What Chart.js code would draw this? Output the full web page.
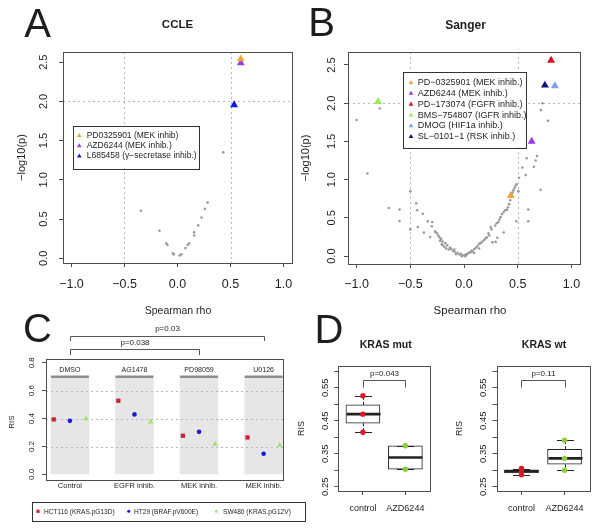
<!DOCTYPE html>
<html>
<head>
<meta charset="utf-8">
<title>RIS and drug response figure</title>
<script src="https://cdn.jsdelivr.net/npm/chart.js@4.4.1/dist/chart.umd.min.js"></script>
<style>
  html, body { margin: 0; padding: 0; background: #fff; }
  #page { position: relative; width: 600px; height: 530px; overflow: hidden;
          font-family: "Liberation Sans", Arial, sans-serif; color: #1e1e1e; }
  #page canvas { position: absolute; left: 0; top: 0; }
  .lbl { position: absolute; white-space: nowrap; line-height: 1; transform: translate(-50%, -50%); }
</style>
</head>
<body>
<div id="page">
  <canvas id="chartA" width="600" height="530"></canvas>
  <canvas id="chartB" width="600" height="530"></canvas>
  <canvas id="chartC" width="600" height="530"></canvas>
  <canvas id="chartD1" width="600" height="530"></canvas>
  <canvas id="chartD2" width="600" height="530"></canvas>
</div>
<script>
// ---- panel A: CCLE volcano ----
const ccleRho  = [-0.345, -0.17, -0.106, -0.095, -0.043, -0.035, 0.02, 0.037, 0.075, 0.095, 0.11, 0.157, 0.157, 0.195, 0.227, 0.258, 0.284, 0.432];
const ccleLogP = [0.607, 0.352, 0.19, 0.17, 0.064, 0.05, 0.037, 0.05, 0.13, 0.17, 0.19, 0.29, 0.33, 0.42, 0.52, 0.63, 0.71, 1.35];
const ccleDrugs    = ['PD0325901 (MEK inhib)', 'AZD6244 (MEK inhib.)', 'L685458 (γ−secretase inhib.)'];
const ccleDrugRho  = [0.597, 0.597, 0.534];
const ccleDrugLogP = [2.54, 2.49, 1.955];
const ccleDrugColors = ['#eea43a', '#9a3de6', '#0a18e8'];

// ---- panel B: Sanger volcano ----
const sangerRho = [-1.0, -0.9, -0.785, -0.7, -0.6, -0.6, -0.5, -0.5, -0.445, -0.435, -0.43, -0.383, -0.374, -0.337, -0.315, -0.296, -0.3,
  -0.27, -0.26, -0.25, -0.238, -0.228, -0.222, -0.213, -0.207, -0.2, -0.198, -0.182, -0.173, -0.167, -0.155, -0.142, -0.13, -0.12,
  -0.105, -0.09, -0.087, -0.074, -0.06, -0.043, -0.03, -0.02, -0.012,
  0.009, 0.012, 0.02, 0.027, 0.04, 0.049, 0.06, 0.07, 0.08, 0.094, 0.093, 0.11, 0.125, 0.14, 0.14, 0.156, 0.17, 0.187, 0.2, 0.212,
  0.228, 0.235, 0.249, 0.255, 0.264, 0.295, 0.31, 0.29, 0.305, 0.32, 0.33, 0.34, 0.355, 0.37, 0.37, 0.385, 0.4, 0.41, 0.42, 0.43,
  0.44, 0.45, 0.46, 0.47, 0.48, 0.49, 0.506, 0.512, 0.487, 0.598, 0.598, 0.543, 0.574, 0.583, 0.651, 0.667, 0.68, 0.713, 0.716, 0.73, 0.783];
const sangerLogP = [1.78, 1.08, 1.93, 0.63, 0.61, 0.46, 0.85, 0.35, 0.69, 0.6, 0.38, 0.555, 0.31, 0.455, 0.25, 0.447, 0.39,
  0.32, 0.31, 0.296, 0.265, 0.243, 0.2, 0.225, 0.156, 0.19, 0.143, 0.122, 0.17, 0.1, 0.14, 0.087, 0.11, 0.095,
  0.07, 0.087, 0.056, 0.026, 0.045, 0.022, 0.03, 0.0, 0.01,
  0.013, 0.0, 0.025, 0.02, 0.04, 0.045, 0.05, 0.07, 0.06, 0.09, 0.04, 0.11, 0.13, 0.16, 0.1, 0.17, 0.19, 0.21, 0.23, 0.245,
  0.3, 0.27, 0.38, 0.35, 0.18, 0.186, 0.24, 0.4, 0.43, 0.447, 0.48, 0.51, 0.55, 0.577, 0.31, 0.6, 0.608, 0.64, 0.68, 0.73,
  0.8, 0.83, 0.86, 0.89, 0.92, 0.94, 0.85, 1.025, 0.456, 0.61, 0.456, 1.16, 1.06, 1.28, 1.17, 1.25, 1.31, 0.868, 1.91, 2.0, 1.77];
const sangerDrugs = ['PD−0325901 (MEK inhib.)', 'AZD6244 (MEK inhib.)', 'PD−173074 (FGFR inhib.)',
  'BMS−754807 (IGFR inhib.)', 'DMOG (HIF1a inhib.)', 'SL−0101−1 (RSK inhib.)'];
const sangerDrugRho  = [0.435, 0.63, 0.811, -0.8, 0.846, 0.753];
const sangerDrugLogP = [0.79, 1.5, 2.56, 2.02, 2.226, 2.235];
const sangerDrugColors = ['#eea43a', '#9a3de6', '#e0101a', '#98ec5a', '#7f9ef0', '#0b1080'];

const rhoTicks = [-1, -0.5, 0, 0.5, 1];
const logPTicks = [0, 0.5, 1, 1.5, 2, 2.5];
const rhoCutoffs = [-0.5, 0.5];
const logPCutoff = 2;

// ---- panel C: RIS per inhibitor ----
const treatments = ['DMSO', 'AG1478', 'PD98059', 'U0126'];
const treatmentClass = ['Control', 'EGFR inhib.', 'MEK inhib.', 'MEK inhib.'];
const cellLines = ['HCT116 (KRAS.pG13D)', 'HT29 (BRAF.pV600E)', 'SW480 (KRAS.pG12V)'];
const risHCT116 = [0.394, 0.528, 0.277, 0.265];
const risHT29   = [0.384, 0.43, 0.305, 0.148];
const risSW480  = [0.4, 0.377, 0.217, 0.21];
const risTicks  = [0, 0.2, 0.4, 0.6, 0.8];
const risGrid   = [0.2, 0.4, 0.6];
const cPvalues  = ['p=0.03', 'p=0.038'];

// ---- panel D: KRAS mut / wt boxplots ----
const dGroups = ['control', 'AZD6244'];
const mutControl = [0.526, 0.47, 0.415];
const mutAZD     = [0.374, 0.303];
const wtControl  = [0.305, 0.297, 0.286];
const wtAZD      = [0.391, 0.336, 0.3];
const boxTicks   = [0.25, 0.3, 0.35, 0.4, 0.45, 0.5, 0.55, 0.6];
const dPvalues   = ['p=0.043', 'p=0.11'];

const FONT = '"Liberation Sans", Arial, sans-serif';
const W = 600, H = 530;
const X_AXIS_H = 30;
const AXIS = '#4d4d4d', TXT = '#1e1e1e', GRID = '#b8b8c4';
Chart.defaults.font.family = FONT;
Chart.defaults.color = TXT;

function pts(xs, ys) { return xs.map((x, i) => ({x: x, y: ys[i]})); }
function half(v) { return Math.round(v) + 0.5; }

function dotted(ctx, x1, y1, x2, y2) {
    ctx.save();
    ctx.strokeStyle = GRID;
    ctx.lineWidth = 1;
    ctx.setLineDash([2, 3]);
    ctx.beginPath();
    ctx.moveTo(x1, y1);
    ctx.lineTo(x2, y2);
    ctx.stroke();
    ctx.restore();
}

function line(ctx, x1, y1, x2, y2) {
    ctx.beginPath();
    ctx.moveTo(x1, y1);
    ctx.lineTo(x2, y2);
    ctx.stroke();
}

function rotatedText(ctx, s, x, y) {
    ctx.save();
    ctx.translate(x, y);
    ctx.rotate(-Math.PI / 2);
    ctx.fillText(s, 0, 0);
    ctx.restore();
}

// text squeezed horizontally, panel C of the figure is narrower than plain Arial
function narrowText(ctx, s, x, y, sx) {
    ctx.save();
    ctx.translate(x, y);
    ctx.scale(sx, 1);
    ctx.fillText(s, 0, 0);
    ctx.restore();
}

function marker(ctx, style, x, y, r, color) {
    ctx.fillStyle = color;
    ctx.beginPath();
    if (style === 'triangle') {
        for (let k = 0; k < 3; k++) {
            const ang = k * 2 * Math.PI / 3;
            const mx = x + Math.sin(ang) * r, my = y - Math.cos(ang) * r;
            if (k === 0) ctx.moveTo(mx, my); else ctx.lineTo(mx, my);
        }
        ctx.closePath();
    } else if (style === 'rect') {
        const s = r * Math.SQRT1_2;
        ctx.rect(x - s, y - s, 2 * s, 2 * s);
    } else {
        ctx.arc(x, y, r, 0, 2 * Math.PI);
    }
    ctx.fill();
}

function legendFrame(ctx, l, t, r, b) {
    ctx.fillStyle = '#fff';
    ctx.fillRect(l, t, r - l, b - t);
    ctx.strokeStyle = '#333';
    ctx.lineWidth = 1;
    ctx.strokeRect(half(l), half(t), Math.round(r - l), Math.round(b - t));
}

// vertical legend with triangle markers (panels A and B)
function drugLegend(ctx, frame, labels, colors, y0, dy, mx, tx, size) {
    legendFrame(ctx, frame[0], frame[1], frame[2], frame[3]);
    ctx.font = size + 'px ' + FONT;
    ctx.textAlign = 'left';
    ctx.textBaseline = 'middle';
    labels.forEach((s, i) => {
        marker(ctx, 'triangle', mx, y0 + i * dy, 2.7, colors[i]);
        ctx.fillStyle = TXT;
        ctx.fillText(s, tx, y0 + i * dy);
    });
}

// R-like frame: box, rotated y tick labels and y title, plus panel specific layers
function rPlugin(cfg) {
    return {
        id: 'rframe',
        beforeDatasetsDraw(chart) {
            if (cfg.under) cfg.under(chart, chart.ctx);
        },
        afterDatasetDraw(chart, args) {
            if (cfg.afterSet && args.index === cfg.afterSetIndex) cfg.afterSet(chart, chart.ctx);
        },
        afterDraw(chart) {
            const ctx = chart.ctx, a = chart.chartArea, y = chart.scales.y;
            ctx.save();
            if (cfg.over) cfg.over(chart, ctx);
            ctx.strokeStyle = AXIS;
            ctx.lineWidth = 1;
            ctx.setLineDash([]);
            ctx.strokeRect(half(a.left), half(a.top), Math.round(a.right - a.left), Math.round(a.bottom - a.top));
            ctx.fillStyle = TXT;
            ctx.font = cfg.yFont + 'px ' + FONT;
            ctx.textAlign = 'center';
            ctx.textBaseline = 'middle';
            cfg.yLabels.forEach(([v, s]) => rotatedText(ctx, s, cfg.yLabelX, y.getPixelForValue(v)));
            const [title, tx, tsize, dy] = cfg.yTitle;
            ctx.font = tsize + 'px ' + FONT;
            rotatedText(ctx, title, tx, (a.top + a.bottom) / 2 + dy);
            ctx.restore();
        }
    };
}

function rChart(id, cfg, datasets) {
    const [l, t, r, b] = cfg.box;
    return new Chart(document.getElementById(id), {
        type: 'scatter',
        data: {datasets: datasets},
        options: {
            responsive: false,
            animation: false,
            events: [],
            layout: {padding: {left: l, top: t, right: W - r, bottom: H - b - X_AXIS_H}},
            plugins: {legend: {display: false}, tooltip: {enabled: false}},
            scales: {
                x: {
                    type: 'linear', min: cfg.xr[0], max: cfg.xr[1], offset: false,
                    afterBuildTicks: s => { s.ticks = cfg.xTicks.map(v => ({value: v})); },
                    afterFit: s => { s.height = X_AXIS_H; s.paddingLeft = 0; s.paddingRight = 0; },
                    grid: {offset: false, drawOnChartArea: false, drawTicks: cfg.xTickLen > 0, tickLength: cfg.xTickLen, color: AXIS},
                    border: {display: false},
                    ticks: {autoSkip: false, maxRotation: 0, minRotation: 0, padding: cfg.xPad, color: TXT,
                            font: {size: cfg.xFont}, callback: cfg.xLabel}
                },
                y: {
                    type: 'linear', min: cfg.yr[0], max: cfg.yr[1], offset: false,
                    afterBuildTicks: s => { s.ticks = cfg.yTicks.map(v => ({value: v})); },
                    afterFit: s => { s.width = 0; s.paddingTop = 0; s.paddingBottom = 0; },
                    grid: {offset: false, drawOnChartArea: false, tickLength: 4, color: AXIS},
                    border: {display: false},
                    ticks: {autoSkip: false, callback: () => ''}
                }
            }
        },
        plugins: [rPlugin(cfg)]
    });
}

// ---------- volcano panels ----------
function volcanoDatasets(rho, logp, drugRho, drugLogP, colors) {
    const ds = drugRho.map((r, i) => ({
        data: [{x: r, y: drugLogP[i]}],
        pointStyle: 'triangle', pointRadius: 4.6, backgroundColor: colors[i], borderWidth: 0
    }));
    ds.push({data: pts(rho, logp), pointRadius: 1.3, backgroundColor: '#9a9a9a', borderWidth: 0});
    return ds;
}

function volcanoGrid(chart, ctx) {
    const a = chart.chartArea, x = chart.scales.x, y = chart.scales.y;
    rhoCutoffs.forEach(v => {
        const gx = half(x.getPixelForValue(v));
        dotted(ctx, gx, a.top, gx, a.bottom);
    });
    const gy = half(y.getPixelForValue(logPCutoff));
    dotted(ctx, a.left, gy, a.right, gy);
}

const logPLabels = logPTicks.map(v => [v, v.toFixed(1)]);
const rhoLabel = v => (v < 0 ? '−' : '') + Math.abs(v).toFixed(1);

rChart('chartA', {
    box: [63, 52, 292, 263], xr: [-1.08, 1.08], yr: [-0.06, 2.63],
    xTicks: rhoTicks, yTicks: logPTicks, xTickLen: 4, xPad: 10.5, xFont: 12.5, xLabel: rhoLabel,
    yLabels: logPLabels, yLabelX: 44.3, yFont: 11, yTitle: ['−log10(p)', 22, 11, 0],
    under: volcanoGrid,
    over: (chart, ctx) => drugLegend(ctx, [72.7, 125.7, 198.3, 168.3], ccleDrugs, ccleDrugColors, 135.7, 10.2, 79.3, 86.7, 8.5)
}, volcanoDatasets(ccleRho, ccleLogP, ccleDrugRho, ccleDrugLogP, ccleDrugColors));

rChart('chartB', {
    box: [348, 52, 580, 264], xr: [-1.08, 1.08], yr: [-0.103, 2.67],
    xTicks: rhoTicks, yTicks: logPTicks, xTickLen: 4, xPad: 9.5, xFont: 12.5, xLabel: rhoLabel,
    yLabels: logPLabels, yLabelX: 331.7, yFont: 11, yTitle: ['−log10(p)', 306, 11, 0],
    under: volcanoGrid,
    over: (chart, ctx) => drugLegend(ctx, [403.3, 71.7, 526, 147.3], sangerDrugs, sangerDrugColors, 82.7, 10.8, 411, 417.7, 9)
}, volcanoDatasets(sangerRho, sangerLogP, sangerDrugRho, sangerDrugLogP, sangerDrugColors));

// ---------- panel C ----------
const groupX = treatments.map((_, i) => i + 1);
const cColors = ['#cc2230', '#1c1ce0', '#9be866'];
const cStyles = ['rect', 'circle', 'triangle'];
const panelTop = 0.7;

rChart('chartC', {
    box: [46, 359, 283, 480], xr: [0.63, 4.3], yr: [-0.04, 0.827],
    xTicks: groupX, yTicks: risTicks, xTickLen: 0, xPad: 1.5, xFont: 7.5, xLabel: (v, i) => treatmentClass[i],
    yLabels: risTicks.map(v => [v, v.toFixed(1)]), yLabelX: 31.7, yFont: 8, yTitle: ['RIS', 12, 8, 2.5],
    afterSetIndex: 3,
    afterSet: (chart, ctx) => {
        const a = chart.chartArea, x = chart.scales.x, y = chart.scales.y;
        risGrid.forEach(v => {
            const gy = half(y.getPixelForValue(v));
            dotted(ctx, a.left, gy, a.right, gy);
        });
        ctx.save();
        ctx.strokeStyle = '#8e8e8e';
        ctx.lineWidth = 2.5;
        const ty = y.getPixelForValue(panelTop);
        ctx.fillStyle = TXT;
        ctx.font = '8px ' + FONT;
        ctx.textAlign = 'center';
        ctx.textBaseline = 'middle';
        groupX.forEach((g, i) => {
            const gx = x.getPixelForValue(g);
            line(ctx, gx - 19, ty, gx + 19, ty);
            narrowText(ctx, treatments[i], gx, ty - 7, 0.88);
        });
        ctx.restore();
    },
    over: (chart, ctx) => {
        const a = chart.chartArea, x = chart.scales.x;
        const brackets = [[1, 4, -23.3, -18, -30.7], [1, 3, -9.7, -4, -16.3]];
        ctx.strokeStyle = '#555';
        ctx.lineWidth = 1;
        ctx.fillStyle = TXT;
        ctx.font = '8px ' + FONT;
        ctx.textAlign = 'center';
        ctx.textBaseline = 'middle';
        brackets.forEach(([g1, g2, top, leg, txt], i) => {
            const x1 = half(x.getPixelForValue(g1)), x2 = half(x.getPixelForValue(g2));
            const yt = half(a.top + top), yl = a.top + leg;
            ctx.beginPath();
            ctx.moveTo(x1, yl); ctx.lineTo(x1, yt); ctx.lineTo(x2, yt); ctx.lineTo(x2, yl);
            ctx.stroke();
            ctx.fillText(cPvalues[i], (x1 + x2) / 2, a.top + txt);
        });
        // legend below the panel
        legendFrame(ctx, 31.5, 502, 304.5, 520.5);
        const items = [[38, 44], [128.7, 134], [216.3, 223]];
        const sizes = [2.3, 1.5, 2.2];
        ctx.font = '8px ' + FONT;
        ctx.textAlign = 'left';
        items.forEach(([mx, tx], i) => {
            marker(ctx, cStyles[i], mx, 511.3, sizes[i], cColors[i]);
            ctx.fillStyle = TXT;
            narrowText(ctx, cellLines[i], tx, 511.3, 0.82);
        });
    }
}, [
    {data: pts(groupX.map(g => g - 0.25), risHCT116), pointStyle: 'rect', pointRadius: 3, backgroundColor: cColors[0], borderWidth: 0},
    {data: pts(groupX, risHT29), pointStyle: 'circle', pointRadius: 2.3, backgroundColor: cColors[1], borderWidth: 0},
    {data: pts(groupX.map(g => g + 0.25), risSW480), pointStyle: 'triangle', pointRadius: 3.2, backgroundColor: cColors[2], borderWidth: 0},
    {type: 'bar', data: groupX.map(g => ({x: g, y: [0, panelTop]})), barThickness: 38, backgroundColor: '#e6e6e6', borderWidth: 0}
]);

// ---------- panel D ----------
// Tukey five-number summary, as boxplot() uses
function fivenum(arr) {
    const s = arr.slice().sort((a, b) => a - b), n = s.length;
    const n4 = Math.floor((n + 3) / 2) / 2;
    return [1, n4, (n + 1) / 2, n + 1 - n4, n].map(d => 0.5 * (s[Math.floor(d) - 1] + s[Math.ceil(d) - 1]));
}

function boxChart(id, box, ctrl, azd, pLabel, yLabelX, risX) {
    const stats = [ctrl, azd].map(fivenum);
    return rChart(id, {
        box: box, xr: [0.42, 2.58], yr: [0.237, 0.616],
        xTicks: [1, 2], yTicks: boxTicks, xTickLen: 4, xPad: 8.6, xFont: 9, xLabel: (v, i) => dGroups[i],
        yLabels: boxTicks.filter((v, i) => i % 2 === 0).map(v => [v, v.toFixed(2)]), yLabelX: yLabelX, yFont: 9.5,
        yTitle: ['RIS', risX, 9, 0],
        afterSetIndex: 2,
        afterSet: (chart, ctx) => {
            const x = chart.scales.x, y = chart.scales.y;
            ctx.save();
            ctx.strokeStyle = '#222';
            stats.forEach((s, i) => {
                const cx = half(x.getPixelForValue(i + 1));
                const py = v => y.getPixelForValue(v);
                ctx.lineWidth = 1;
                ctx.setLineDash([3, 2]);
                if (s[4] > s[3]) line(ctx, cx, py(s[3]), cx, py(s[4]));
                if (s[0] < s[1]) line(ctx, cx, py(s[1]), cx, py(s[0]));
                ctx.setLineDash([]);
                line(ctx, cx - 8.5, half(py(s[4])), cx + 8.5, half(py(s[4])));
                line(ctx, cx - 8.5, half(py(s[0])), cx + 8.5, half(py(s[0])));
                ctx.lineWidth = 2.6;
                line(ctx, cx - 17, py(s[2]), cx + 17, py(s[2]));
            });
            ctx.restore();
        },
        over: (chart, ctx) => {
            const a = chart.chartArea, x = chart.scales.x;
            const x1 = half(x.getPixelForValue(1)), x2 = half(x.getPixelForValue(2));
            const yt = half(a.top + 14), yl = a.top + 21.7;
            ctx.strokeStyle = '#555';
            ctx.lineWidth = 1;
            ctx.beginPath();
            ctx.moveTo(x1, yl); ctx.lineTo(x1, yt); ctx.lineTo(x2, yt); ctx.lineTo(x2, yl);
            ctx.stroke();
            ctx.fillStyle = TXT;
            ctx.font = '8px ' + FONT;
            ctx.textAlign = 'center';
            ctx.textBaseline = 'middle';
            ctx.fillText(pLabel, (x1 + x2) / 2, a.top + 8);
        }
    }, [
        {data: ctrl.map(v => ({x: 1, y: v})), pointRadius: 2.7, backgroundColor: '#e0142a', borderWidth: 0},
        {data: azd.map(v => ({x: 2, y: v})), pointRadius: 2.7, backgroundColor: '#8dcc3a', borderWidth: 0},
        {type: 'bar', data: stats.map((s, i) => ({x: i + 1, y: [s[1], s[3]]})), barThickness: 34,
         backgroundColor: '#fff', borderColor: '#222', borderWidth: 1, borderSkipped: false}
    ]);
}

boxChart('chartD1', [338.3, 366, 430, 491], mutControl, mutAZD, dPvalues[0], 325, 302);
boxChart('chartD2', [496.5, 366, 589.5, 491], wtControl, wtAZD, dPvalues[1], 483, 460);

// ---------- titles, panel letters, x axis titles ----------
function addLabel(text, x, y, size, bold) {
    const el = document.createElement('div');
    el.className = 'lbl';
    el.textContent = text;
    el.style.left = x + 'px';
    el.style.top = y + 'px';
    el.style.fontSize = size + 'px';
    if (bold) el.style.fontWeight = 'bold';
    document.getElementById('page').appendChild(el);
}

addLabel('A', 37.5, 22.5, 40);
addLabel('B', 321.5, 21.5, 40);
addLabel('C', 37.5, 328, 40);
addLabel('D', 329, 329, 40);
addLabel('CCLE', 177.5, 25, 11.5, true);
addLabel('Sanger', 465.5, 25, 12, true);
addLabel('Spearman rho', 178, 310, 10.5);
addLabel('Spearman rho', 470, 311, 11.5);
addLabel('KRAS mut', 385.7, 344, 10.5, true);
addLabel('KRAS wt', 544, 344, 10.5, true);
</script>
</body>
</html>
